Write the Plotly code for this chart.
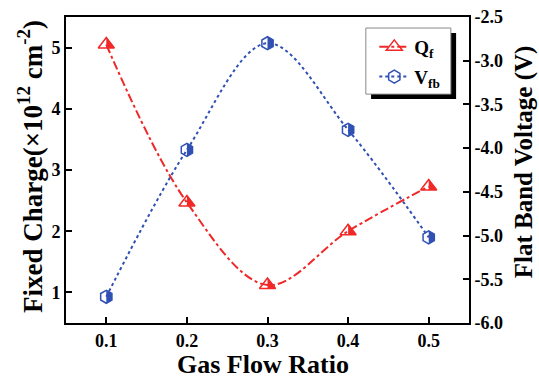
import plotly.graph_objects as go
import math

ratio = [0.1, 0.2, 0.3, 0.4, 0.5]
qf = [5.05, 2.47, 1.12, 2.0, 2.73]
vfb = [-5.70, -4.02, -2.80, -3.79, -5.02]
x_ticks = [0.1, 0.2, 0.3, 0.4, 0.5]
y1_ticks = [1, 2, 3, 4, 5]
y2_ticks = [-6.0, -5.5, -5.0, -4.5, -4.0, -3.5, -3.0, -2.5]

RED = "#f02828"
BLUE = "#3050b4"
FONT = "Liberation Serif"

fig = go.Figure()
fig.add_trace(go.Scatter(
    x=ratio, y=qf, name="Q<sub>f</sub>", mode="lines+markers", legendgroup="a",
    line=dict(color=RED, width=2, dash="dashdot", shape="spline"),
    marker=dict(symbol="triangle-up-open", size=14, color=RED, line=dict(width=1.5, color=RED)),
    yaxis="y"))
fig.add_trace(go.Scatter(
    x=ratio, y=vfb, name="V<sub>fb</sub>", mode="lines+markers", legendgroup="b",
    line=dict(color=BLUE, width=2, dash="dot", shape="spline"),
    marker=dict(symbol="hexagon-open", size=13, color=BLUE, line=dict(width=1.5, color=BLUE)),
    yaxis="y2"))

def tri_half(s):
    r = s / 2
    rt = r * 2 / math.sqrt(3)
    r2 = r / 2
    return f"M0,{r} L{rt},{-r2} L0,{-r2} Z"

def hex_half(s):
    r = s / 2
    rt = r * math.sqrt(3) / 2
    r2 = r / 2
    return f"M0,{r} L{rt},{r2} L{rt},{-r2} L0,{-r} Z"

shapes = []
for xv, yv in zip(ratio, qf):
    shapes.append(dict(type="path", xref="x", yref="y", xsizemode="pixel", ysizemode="pixel",
                       xanchor=xv, yanchor=yv, path=tri_half(14), fillcolor=RED,
                       line=dict(width=0), layer="above"))
for xv, yv in zip(ratio, vfb):
    shapes.append(dict(type="path", xref="x", yref="y2", xsizemode="pixel", ysizemode="pixel",
                       xanchor=xv, yanchor=yv, path=hex_half(13), fillcolor=BLUE,
                       line=dict(width=0), layer="above"))
# legend shadow and box
shapes.append(dict(type="rect", xref="paper", yref="paper", x0=0.757, x1=0.968, y0=0.732, y1=0.948,
                   fillcolor="black", line=dict(width=0), layer="below"))
shapes.append(dict(type="rect", xref="paper", yref="paper", x0=0.744, x1=0.955, y0=0.748, y1=0.964,
                   fillcolor="white", line=dict(width=1, color="#888888"), layer="below"))

tickfont = dict(family=FONT, size=18, color="black", weight="bold")
titlefont = dict(family=FONT, size=26, color="black", weight="bold")
titlefont_l = dict(family=FONT, size=27, color="black", weight="bold")
titlefont_r = dict(family=FONT, size=25, color="black", weight="bold")

annotations = [
    dict(text="Gas Flow Ratio", xref="paper", yref="paper", x=0.49, y=-0.1895,
         xanchor="center", yanchor="bottom", showarrow=False, font=titlefont),
    dict(text="Fixed Charge(×10<sup>12</sup> cm<sup>-2</sup>)", xref="paper", yref="paper",
         x=-0.089, y=0.51, xanchor="center", yanchor="middle", textangle=-90,
         showarrow=False, font=titlefont_l),
    dict(text="Flat Band Voltage (V)", xref="paper", yref="paper",
         x=1.137, y=0.526, xanchor="center", yanchor="middle", textangle=-90,
         showarrow=False, font=titlefont_r),
]

axis_common = dict(ticks="inside", ticklen=6, tickwidth=1.5, tickcolor="black",
                   showline=True, linecolor="black", linewidth=2, showgrid=False,
                   zeroline=False, tickfont=tickfont, automargin=False)

fig.update_layout(
    width=539, height=381,
    margin=dict(l=66, r=70, t=17, b=58, autoexpand=False),
    paper_bgcolor="white", plot_bgcolor="white",
    showlegend=True,
    legend=dict(x=0.765, y=0.964, xanchor="left", yanchor="top",
                bgcolor="rgba(0,0,0,0)", borderwidth=0,
                font=dict(family=FONT, size=19, color="black", weight="bold"),
                tracegroupgap=2, itemsizing="trace"),
    xaxis=dict(range=[0.05, 0.55], tickvals=x_ticks, ticktext=[f"{v:.1f}" for v in x_ticks],
               mirror=True, **axis_common),
    yaxis=dict(range=[0.5, 5.5], tickvals=y1_ticks, ticktext=[str(v) for v in y1_ticks],
               **axis_common),
    yaxis2=dict(range=[-6.0, -2.5], tickvals=y2_ticks, ticktext=[f"{v:.1f}" for v in y2_ticks],
                overlaying="y", side="right", **axis_common),
    shapes=shapes,
    annotations=annotations,
)

fig.write_html("out.html", config={"displayModeBar": False},
               post_script="document.body.style.margin='0';document.body.style.overflow='hidden';")
